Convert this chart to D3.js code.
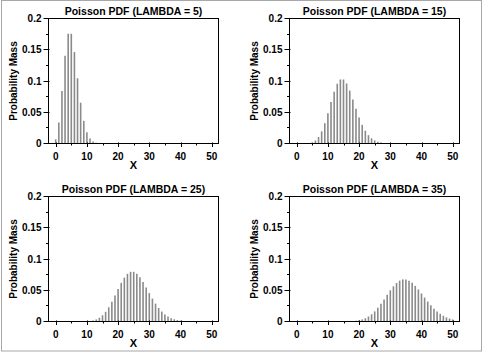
<!DOCTYPE html>
<html><head><meta charset="utf-8">
<script src="https://cdn.jsdelivr.net/npm/d3@7"></script>
<style>body{margin:0;background:#fff}svg{display:block}text{font-family:"Liberation Sans",Arial,sans-serif;font-weight:bold;fill:#000}</style>
</head><body><div id="chart"></div>
<script>
const xValues = d3.range(0, 51);
const lambdas = [5, 15, 25, 35];
const titles = ["Poisson PDF (LAMBDA = 5)", "Poisson PDF (LAMBDA = 15)", "Poisson PDF (LAMBDA = 25)", "Poisson PDF (LAMBDA = 35)"];
const pmf5 = [0.0067,0.0337,0.0842,0.1404,0.1755,0.1755,0.1462,0.1044,0.0653,0.0363,0.0181,0.0082,0.0034,0.0013,0.0005,0.0002,0.0001,0,0,0,0,0,0,0,0,0,0,0,0,0,0,0,0,0,0,0,0,0,0,0,0,0,0,0,0,0,0,0,0,0,0];
const pmf15 = [0,0,0,0.0002,0.0006,0.0019,0.0048,0.0104,0.0194,0.0324,0.0486,0.0663,0.0829,0.0956,0.1024,0.1024,0.0960,0.0847,0.0706,0.0557,0.0418,0.0299,0.0204,0.0133,0.0083,0.0050,0.0029,0.0016,0.0009,0.0004,0.0002,0.0001,0,0,0,0,0,0,0,0,0,0,0,0,0,0,0,0,0,0,0];
const pmf25 = [0,0,0,0,0,0,0,0,0.0001,0.0001,0.0004,0.0008,0.0017,0.0033,0.0059,0.0099,0.0155,0.0227,0.0316,0.0415,0.0519,0.0618,0.0702,0.0763,0.0795,0.0795,0.0765,0.0708,0.0632,0.0545,0.0454,0.0366,0.0286,0.0217,0.0159,0.0114,0.0079,0.0053,0.0035,0.0022,0.0014,0.0008,0.0005,0.0003,0.0002,0.0001,0,0,0,0,0];
const pmf35 = [0,0,0,0,0,0,0,0,0,0,0,0,0,0,0,0.0001,0.0002,0.0003,0.0006,0.0011,0.0020,0.0033,0.0052,0.0080,0.0116,0.0162,0.0219,0.0283,0.0354,0.0428,0.0499,0.0563,0.0616,0.0654,0.0673,0.0673,0.0654,0.0619,0.0570,0.0512,0.0448,0.0382,0.0319,0.0259,0.0206,0.0160,0.0122,0.0091,0.0066,0.0047,0.0033];
const series = [pmf5, pmf15, pmf25, pmf35];
const xTicks = [0, 10, 20, 30, 40, 50];
const xMinor = [5, 15, 25, 35, 45];
const yTicks = [0, 0.05, 0.1, 0.15, 0.2];
const yTickLabels = ["0", "0.05", "0.1", "0.15", "0.2"];
const yMinor = [0.025, 0.075, 0.125, 0.175];

const W = 483, H = 357;
const svg = d3.select("#chart").append("svg").attr("width", W).attr("height", H);
svg.append("rect").attr("x", 1.5).attr("y", 0.5).attr("width", 480).attr("height", 350.5)
  .attr("fill", "#fff").attr("stroke", "#a8a8a8").attr("stroke-width", 1);

const offsets = [[0, 0], [241, 0], [0, 178], [241, 178]];
const L = 48.5, R = 218.5, T = 18.5, B = 143.5;
const x = d3.scaleLinear().domain([0, 50]).range([55.7, 211.7]);
const y = d3.scaleLinear().domain([0, 0.2]).range([B, T]);

series.forEach((vals, i) => {
  const g = svg.append("g").attr("transform", `translate(${offsets[i][0]},${offsets[i][1]})`);
  // bars
  g.selectAll("line.bar").data(xValues).join("line").attr("class", "bar")
    .attr("x1", d => x(d)).attr("x2", d => x(d))
    .attr("y1", y(0)).attr("y2", (d, j) => y(vals[j]))
    .attr("stroke", "#8a8a8a").attr("stroke-width", 1.6);
  // frame
  g.append("rect").attr("x", L).attr("y", T).attr("width", R - L).attr("height", B - T)
    .attr("fill", "none").attr("stroke", "#000").attr("stroke-width", 1);
  // x ticks
  g.selectAll("line.xt").data(xTicks).join("line").attr("class", "xt")
    .attr("x1", d => Math.round(x(d)) + 0.5).attr("x2", d => Math.round(x(d)) + 0.5)
    .attr("y1", B - 1).attr("y2", B + 3.5).attr("stroke", "#000");
  g.selectAll("line.xm").data(xMinor).join("line").attr("class", "xm")
    .attr("x1", d => Math.round(x(d)) + 0.5).attr("x2", d => Math.round(x(d)) + 0.5)
    .attr("y1", B).attr("y2", B + 2).attr("stroke", "#000");
  g.selectAll("text.xl").data(xTicks).join("text").attr("class", "xl")
    .attr("x", d => x(d)).attr("y", 159.5).attr("text-anchor", "middle")
    .attr("font-size", 10).text(d => d);
  // y ticks
  g.selectAll("line.yt").data(yTicks).join("line").attr("class", "yt")
    .attr("x1", L - 5).attr("x2", L + 1)
    .attr("y1", d => Math.round(y(d) - 0.5) + 0.5).attr("y2", d => Math.round(y(d) - 0.5) + 0.5).attr("stroke", "#000");
  g.selectAll("line.ym").data(yMinor).join("line").attr("class", "ym")
    .attr("x1", L - 2.5).attr("x2", L)
    .attr("y1", d => Math.round(y(d) - 0.5) + 0.5).attr("y2", d => Math.round(y(d) - 0.5) + 0.5).attr("stroke", "#000");
  g.selectAll("text.yl").data(yTicks).join("text").attr("class", "yl")
    .attr("x", 41.5).attr("y", d => y(d)).attr("dy", "0.36em").attr("text-anchor", "end")
    .attr("font-size", 10).text((d, j) => yTickLabels[j]);
  // titles & labels
  g.append("text").attr("x", (L + R) / 2).attr("y", 14.5).attr("text-anchor", "middle")
    .attr("font-size", 10.5).text(titles[i]);
  g.append("text").attr("x", (L + R) / 2).attr("y", 169).attr("text-anchor", "middle")
    .attr("font-size", 11).text("X");
  g.append("text").attr("transform", `translate(16.5,${(T + B) / 2}) rotate(-90)`)
    .attr("text-anchor", "middle").attr("font-size", 10).text("Probability Mass");
});
</script></body></html>
